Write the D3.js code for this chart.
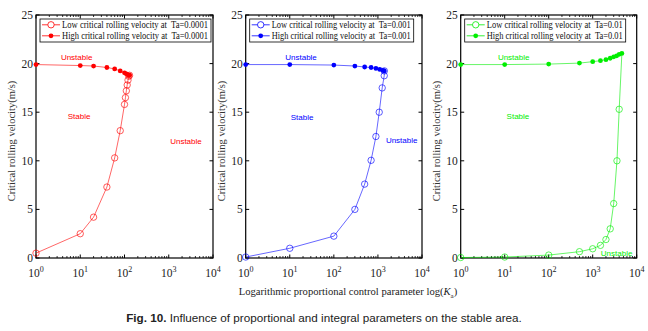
<!DOCTYPE html>
<html><head><meta charset="utf-8">
<script src="https://cdn.jsdelivr.net/npm/d3@7"></script>
<style>body{margin:0;background:#fff}svg{display:block}</style>
</head><body>
<svg id="c" width="648" height="331"></svg>
<script>
// ---- data ----
const taLabels = ["0.0001", "0.001", "0.01"];
const colors = ["#ff0000", "#0000ff", "#00ee00"];
const lowK1 = [1, 10, 20, 40, 60, 80, 100, 105, 110, 115, 120, 125, 130];
const lowV1 = [0.5, 2.5, 4.2, 7.3, 10.3, 13.1, 15.8, 16.5, 17.2, 17.8, 18.3, 18.7, 18.8];
const highK1 = [1, 10, 20, 40, 60, 80, 100, 110, 120, 130];
const highV1 = [19.9, 19.8, 19.75, 19.6, 19.45, 19.25, 19.05, 18.95, 18.85, 18.8];
const lowK2 = [1, 10, 100, 300, 500, 700, 900, 1070, 1250, 1390, 1400];
const lowV2 = [0.1, 1.0, 2.25, 5.0, 7.6, 10.05, 12.5, 15.0, 17.5, 18.75, 19.25];
const highK2 = [1, 10, 100, 300, 500, 700, 900, 1100, 1300, 1400];
const highV2 = [19.9, 19.9, 19.85, 19.75, 19.65, 19.6, 19.5, 19.4, 19.3, 19.25];
const lowK3 = [1, 10, 100, 500, 1000, 1500, 2000, 2500, 3000, 3560, 4000];
const lowV3 = [0.05, 0.1, 0.3, 0.65, 0.95, 1.3, 1.9, 3.0, 5.6, 10.0, 15.3];
const lowEndK3 = [4000, 4600];
const lowEndV3 = [15.3, 21.05];
const highK3 = [1, 10, 100, 500, 1000, 1500, 2000, 2500, 3000, 3500, 4000, 4600];
const highV3 = [19.9, 19.9, 19.95, 20.05, 20.2, 20.3, 20.4, 20.55, 20.7, 20.8, 20.95, 21.05];
const yTicks = [0, 5, 10, 15, 20, 25];
const xTickExps = [0, 1, 2, 3, 4];
const yLabel = "Critical rolling velocity(m/s)";
const xLabel = "Logarithmic proportional control parameter log(";
const caption = "Influence of proportional and integral parameters on the stable area.";
// annotations: [text, K, v]
const notes = [
  [["Unstable", 8.3, 20.4], ["Stable", 9.4, 14.25], ["Unstable", 2450, 11.7]],
  [["Unstable", 18, 20.4], ["Stable", 19, 14.15], ["Unstable", 3460, 11.8]],
  [["Unstable", 16, 20.4], ["Stable", 20, 14.25], ["Unstable", 3500, 0.22]]
];

const panels = [
  {low: [lowK1, lowV1], high: [highK1, highV1], extra: null},
  {low: [lowK2, lowV2], high: [highK2, highV2], extra: null},
  {low: [lowK3, lowV3], high: [highK3, highV3], extra: [lowEndK3, lowEndV3]}
];
const panelX = [[36, 213], [245.7, 422], [460.7, 636.7]];
const legendW = [171, 164, 161];
const plotTop = 15, plotBottom = 258;

const svg = d3.select("#c");
const serif = "'Liberation Serif','Times New Roman',serif";
const sans = "'Liberation Sans',Arial,sans-serif";

panels.forEach((p, i) => {
  const col = colors[i];
  const x = d3.scaleLog().domain([1, 1e4]).range(panelX[i]);
  const y = d3.scaleLinear().domain([0, 25]).range([plotBottom, plotTop]);
  const g = svg.append("g");

  // minor ticks
  const minor = [];
  for (let e = 0; e < 4; e++) for (let m = 2; m <= 9; m++) minor.push(m * Math.pow(10, e));
  minor.forEach(v => {
    g.append("line").attr("x1", x(v)).attr("x2", x(v)).attr("y1", plotBottom).attr("y2", plotBottom - 2).attr("stroke", "#000").attr("stroke-width", 0.8);
    g.append("line").attr("x1", x(v)).attr("x2", x(v)).attr("y1", plotTop).attr("y2", plotTop + 2).attr("stroke", "#000").attr("stroke-width", 0.8);
  });
  xTickExps.forEach(e => {
    const v = Math.pow(10, e);
    g.append("line").attr("x1", x(v)).attr("x2", x(v)).attr("y1", plotBottom).attr("y2", plotBottom - 3.5).attr("stroke", "#000");
    g.append("line").attr("x1", x(v)).attr("x2", x(v)).attr("y1", plotTop).attr("y2", plotTop + 3.5).attr("stroke", "#000");
    const t = g.append("text").attr("x", x(v)).attr("y", 277).attr("text-anchor", "middle")
      .attr("font-family", serif).attr("font-size", 11.5).attr("fill", "#222");
    t.append("tspan").text("10");
    t.append("tspan").attr("dy", -5).attr("font-size", 8).text(e);
  });
  yTicks.forEach(v => {
    g.append("line").attr("x1", panelX[i][0]).attr("x2", panelX[i][0] + 3.5).attr("y1", y(v)).attr("y2", y(v)).attr("stroke", "#000");
    g.append("line").attr("x1", panelX[i][1]).attr("x2", panelX[i][1] - 3.5).attr("y1", y(v)).attr("y2", y(v)).attr("stroke", "#000");
    g.append("text").attr("x", panelX[i][0] - 3).attr("y", y(v) + 4).attr("text-anchor", "end")
      .attr("font-family", serif).attr("font-size", 11.5).attr("fill", "#222").text(v);
  });
  g.append("rect").attr("x", panelX[i][0]).attr("y", plotTop).attr("width", panelX[i][1] - panelX[i][0]).attr("height", plotBottom - plotTop)
    .attr("fill", "none").attr("stroke", "#000").attr("stroke-width", 1.2);

  // y label
  g.append("text").attr("transform", `translate(${panelX[i][0] - 21},${141}) rotate(-90)`).attr("text-anchor", "middle")
    .attr("font-family", serif).attr("font-size", 10.5).attr("fill", "#333").text(yLabel);

  const line = d3.line().x(d => x(d[0])).y(d => y(d[1]));
  const lowPts = p.low[0].map((k, j) => [k, p.low[1][j]]);
  const highPts = p.high[0].map((k, j) => [k, p.high[1][j]]);
  g.append("path").attr("d", line(lowPts)).attr("fill", "none").attr("stroke", col).attr("stroke-width", 0.8).attr("stroke-opacity", 0.75);
  if (p.extra) {
    const ex = p.extra[0].map((k, j) => [k, p.extra[1][j]]);
    g.append("path").attr("d", line(ex)).attr("fill", "none").attr("stroke", col).attr("stroke-width", 0.8).attr("stroke-opacity", 0.75);
  }
  g.append("path").attr("d", line(highPts)).attr("fill", "none").attr("stroke", col).attr("stroke-width", 0.8).attr("stroke-opacity", 0.75);
  lowPts.forEach(d => g.append("circle").attr("cx", x(d[0])).attr("cy", y(d[1])).attr("r", 3.2)
    .attr("fill", "none").attr("stroke", col).attr("stroke-width", 0.8).attr("stroke-opacity", 0.8));
  highPts.forEach(d => g.append("circle").attr("cx", x(d[0])).attr("cy", y(d[1])).attr("r", 2.4).attr("fill", col));

  notes[i].forEach(n => {
    g.append("text").attr("x", x(n[1])).attr("y", y(n[2])).attr("text-anchor", "middle")
      .attr("font-family", sans).attr("font-size", 8).attr("fill", col).text(n[0]);
  });

  // legend
  const lx = panelX[i][0] + 4, ly = 19;
  const lg = g.append("g");
  lg.append("rect").attr("x", lx).attr("y", ly).attr("height", 23).attr("width", legendW[i]).attr("fill", "#fff").attr("stroke", "#000").attr("stroke-width", 0.8);
  const names = ["Low critical rolling velocity at  Ta=" + taLabels[i], "High critical rolling velocity at  Ta=" + taLabels[i]];
  names.forEach((nm, j) => {
    const yy = ly + 5.8 + j * 11;
    lg.append("line").attr("x1", lx + 2).attr("x2", lx + 20).attr("y1", yy).attr("y2", yy).attr("stroke", col).attr("stroke-width", 0.8);
    if (j === 0) lg.append("circle").attr("cx", lx + 11).attr("cy", yy).attr("r", 3.2).attr("fill", "#fff").attr("stroke", col).attr("stroke-width", 0.8);
    else lg.append("circle").attr("cx", lx + 11).attr("cy", yy).attr("r", 2.4).attr("fill", col);
    const t = lg.append("text").attr("x", lx + 22).attr("y", yy + 3).attr("font-family", serif).attr("font-size", 9.5).attr("fill", "#111").style("white-space", "pre").text(nm);
    const avail = legendW[i] - 25;
    if (t.node().getComputedTextLength() > avail) t.attr("textLength", avail).attr("lengthAdjust", "spacingAndGlyphs");
  });
});

// x axis label
const xl = svg.append("text").attr("x", 348).attr("y", 295).attr("text-anchor", "middle")
  .attr("font-family", serif).attr("font-size", 10.6).attr("fill", "#222");
xl.append("tspan").text(xLabel);
xl.append("tspan").attr("font-style", "italic").text("K");
xl.append("tspan").attr("dy", 2.5).attr("font-size", 7).text("a");
xl.append("tspan").attr("dy", -2.5).text(")");

const cap = svg.append("text").attr("x", 324).attr("y", 322).attr("text-anchor", "middle")
  .attr("font-family", sans).attr("font-size", 11.7).attr("fill", "#222");
cap.append("tspan").attr("font-weight", "bold").text("Fig. 10. ");
cap.append("tspan").text(caption);
</script>
</body></html>
